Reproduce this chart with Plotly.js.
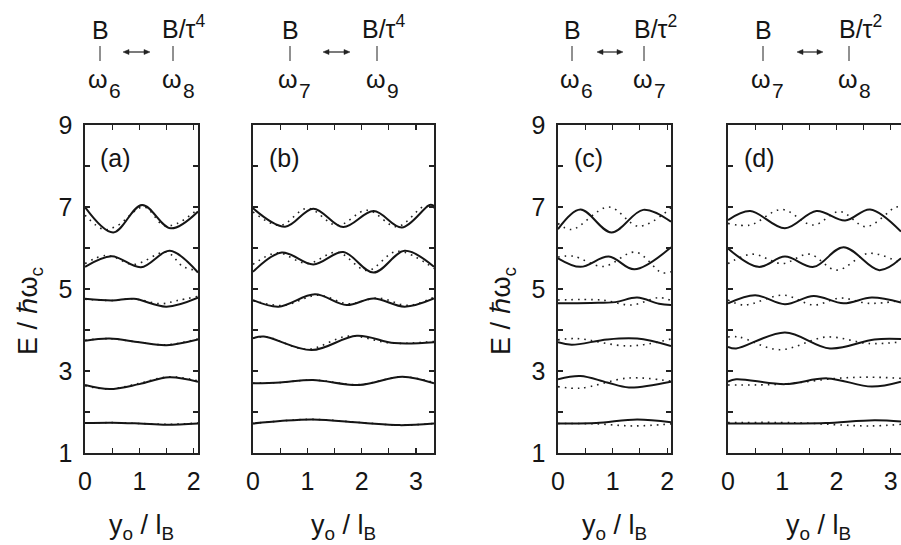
<!DOCTYPE html>
<html>
<head>
<meta charset="utf-8">
<script src="https://cdn.plot.ly/plotly-3.0.1.min.js"></script>
<style>
  html, body { margin: 0; padding: 0; background: #fff; }
  #chart { width: 901px; height: 545px; }
</style>
</head>
<body>
<div id="chart"></div>
<script>
// Energy levels E / ħω_c versus guiding-centre position y_o / l_B
// for four pairs of interfering fields; solid and dotted curves per level.

const panelLetters = ['(a)', '(b)', '(c)', '(d)'];
const leftField = ['B', 'B', 'B', 'B'];
const rightField = ['B/τ<sup>4</sup>', 'B/τ<sup>4</sup>', 'B/τ<sup>2</sup>', 'B/τ<sup>2</sup>'];
const leftFreq = ['6', '7', '6', '7'];
const rightFreq = ['8', '9', '7', '8'];

// panel (a)
const aSolidX = [
  [0, 0.5, 1.0, 1.5, 2.08],
  [0, 0.45, 1.0, 1.55, 2.08],
  [0, 0.45, 1.0, 1.5, 2.08],
  [0, 0.5, 0.9, 1.5, 2.08],
  [0, 0.49, 1.03, 1.56, 2.08],
  [0, 0.52, 1.05, 1.58, 2.08]
];
const aSolidY = [
  [1.73, 1.74, 1.72, 1.69, 1.72],
  [2.66, 2.56, 2.68, 2.85, 2.74],
  [3.74, 3.79, 3.70, 3.63, 3.77],
  [4.76, 4.72, 4.76, 4.57, 4.79],
  [5.54, 5.80, 5.53, 5.93, 5.40],
  [7.00, 6.38, 7.05, 6.48, 6.89]
];
const aDotX = [
  [0, 0.5, 1.0, 1.5, 2.08],
  [0, 0.45, 1.0, 1.55, 2.08],
  [0, 0.45, 1.0, 1.5, 2.08],
  [0, 0.5, 0.9, 1.4, 1.7, 2.08],
  [0, 0.4, 0.9, 1.5, 1.8, 2.08],
  [0, 0.35, 0.6, 1.08, 1.45, 1.7, 2.08]
];
const aDotY = [
  [1.73, 1.74, 1.72, 1.70, 1.73],
  [2.64, 2.56, 2.70, 2.86, 2.76],
  [3.75, 3.79, 3.70, 3.64, 3.78],
  [4.75, 4.72, 4.76, 4.64, 4.72, 4.82],
  [5.62, 5.82, 5.60, 5.90, 5.55, 5.45],
  [6.80, 6.45, 6.55, 7.00, 6.55, 6.60, 6.95]
];

// panel (b)
const bSolidX = [
  [0, 0.5, 1.1, 2.0, 2.7, 3.33],
  [0, 0.5, 1.1, 1.95, 2.75, 3.33],
  [0, 0.2, 1.08, 1.91, 2.6, 3.33],
  [0, 0.47, 1.14, 1.72, 2.22, 2.79, 3.33],
  [0, 0.53, 1.11, 1.66, 2.22, 2.79, 3.33],
  [0, 0.59, 1.11, 1.66, 2.22, 2.74, 3.25, 3.33]
];
const bSolidY = [
  [1.72, 1.78, 1.82, 1.74, 1.68, 1.72],
  [2.70, 2.72, 2.78, 2.66, 2.86, 2.70],
  [3.80, 3.84, 3.51, 3.86, 3.68, 3.70],
  [4.73, 4.57, 4.87, 4.61, 4.77, 4.57, 4.77],
  [5.42, 5.89, 5.60, 5.90, 5.40, 5.93, 5.54],
  [6.97, 6.52, 6.96, 6.51, 6.90, 6.50, 7.05, 7.03]
];
const bDotX = [
  [0, 0.5, 1.1, 2.0, 2.7, 3.33],
  [0, 0.5, 1.1, 1.95, 2.75, 3.33],
  [0, 0.25, 1.0, 1.75, 2.55, 3.33],
  [0, 0.55, 1.2, 1.75, 2.3, 2.85, 3.33],
  [0, 0.45, 1.0, 1.55, 2.1, 2.65, 3.33],
  [0, 0.5, 1.0, 1.55, 2.1, 2.65, 3.15, 3.33]
];
const bDotY = [
  [1.72, 1.78, 1.82, 1.74, 1.68, 1.72],
  [2.70, 2.72, 2.78, 2.67, 2.86, 2.72],
  [3.80, 3.83, 3.53, 3.85, 3.68, 3.72],
  [4.72, 4.60, 4.85, 4.64, 4.78, 4.60, 4.80],
  [5.60, 5.88, 5.62, 5.90, 5.45, 5.92, 5.50],
  [6.88, 6.55, 6.97, 6.55, 6.92, 6.52, 7.02, 6.98]
];

// panel (c)
const cSolidX = [
  [0, 0.7, 1.45, 2.07],
  [0, 0.41, 0.9, 1.3, 2.07],
  [0, 0.25, 0.9, 1.45, 2.07],
  [0, 0.6, 1.05, 1.45, 1.85, 2.07],
  [0, 0.41, 0.93, 1.40, 2.07],
  [0, 0.41, 0.98, 1.56, 2.07]
];
const cSolidY = [
  [1.72, 1.73, 1.82, 1.75],
  [2.80, 2.88, 2.72, 2.60, 2.74],
  [3.70, 3.64, 3.77, 3.79, 3.61],
  [4.65, 4.66, 4.68, 4.79, 4.64, 4.61],
  [5.75, 5.54, 5.79, 5.48, 6.02],
  [6.46, 6.94, 6.38, 6.93, 6.64]
];
const cDotX = [
  [0, 0.7, 1.4, 2.07],
  [0, 0.4, 1.3, 2.07],
  [0, 0.35, 1.3, 2.07],
  [0, 0.8, 1.35, 1.85, 2.07],
  [0, 0.28, 0.83, 1.42, 1.9, 2.07],
  [0, 0.25, 0.93, 1.48, 2.07]
];
const cDotY = [
  [1.72, 1.71, 1.66, 1.71],
  [2.62, 2.58, 2.83, 2.75],
  [3.76, 3.79, 3.61, 3.78],
  [4.73, 4.73, 4.61, 4.79, 4.72],
  [5.78, 5.80, 5.55, 5.90, 5.40, 5.42],
  [6.60, 6.45, 7.00, 6.53, 6.98]
];

// panel (d)
const dSolidX = [
  [0, 1.2, 1.8, 2.7, 3.19],
  [0, 0.15, 1.05, 1.83, 2.65, 3.19],
  [0, 0.15, 1.05, 1.88, 2.7, 3.19],
  [0, 0.5, 1.05, 1.58, 2.13, 2.65, 3.19],
  [0, 0.56, 1.05, 1.58, 2.13, 2.79, 3.19],
  [0, 0.41, 1.05, 1.63, 2.16, 2.62, 3.19]
];
const dSolidY = [
  [1.72, 1.72, 1.73, 1.80, 1.77],
  [2.74, 2.80, 2.68, 2.82, 2.62, 2.74],
  [3.59, 3.55, 3.94, 3.55, 3.77, 3.78],
  [4.65, 4.85, 4.63, 4.83, 4.65, 4.79, 4.67],
  [5.99, 5.54, 5.79, 5.54, 6.02, 5.46, 5.75],
  [6.68, 6.90, 6.48, 6.90, 6.67, 6.94, 6.40]
];
const dDotX = [
  [0, 1.2, 2.6, 3.19],
  [0, 1.0, 2.0, 2.6, 3.19],
  [0, 0.2, 0.95, 1.82, 2.6, 3.19],
  [0, 0.3, 1.02, 1.58, 2.07, 2.6, 3.19],
  [0, 0.45, 1.0, 1.5, 2.0, 2.6, 3.19],
  [0, 0.41, 0.99, 1.57, 2.06, 2.55, 3.1, 3.19]
];
const dDotY = [
  [1.74, 1.74, 1.66, 1.70],
  [2.66, 2.68, 2.82, 2.85, 2.82],
  [3.83, 3.83, 3.52, 3.83, 3.67, 3.71],
  [4.73, 4.61, 4.85, 4.61, 4.78, 4.65, 4.72],
  [5.62, 5.85, 5.62, 5.85, 5.46, 5.87, 5.62],
  [6.60, 6.56, 6.94, 6.56, 6.89, 6.52, 7.00, 6.98]
];

const W = 901, H = 545;
const fx = p => p / W;
const fy = p => 1 - p / H;
const FONT = 'Liberation Sans, Arial, Helvetica, sans-serif';
const INK = '#151515';

// plot-area geometry in pixels: [left, right]; shared top/bottom
const panelDom = [[85, 198], [253, 434], [558, 671], [728, 901]];
const plotTop = 125, plotBottom = 453;
const xRanges = [[0, 2.08], [0, 3.33], [0, 2.07], [0, 3.19]];
const sets = [
  [aSolidX, aSolidY, aDotX, aDotY],
  [bSolidX, bSolidY, bDotX, bDotY],
  [cSolidX, cSolidY, cDotX, cDotY],
  [dSolidX, dSolidY, dDotX, dDotY]
];

const traces = [];
sets.forEach((s, i) => {
  const xa = 'x' + (i ? i + 1 : '');
  const ya = 'y' + (i ? i + 1 : '');
  for (let k = 0; k < s[0].length; k++) {
    traces.push({
      x: s[2][k], y: s[3][k], xaxis: xa, yaxis: ya, mode: 'lines',
      line: { color: '#222', width: 1.6, dash: '1.6px,5px', shape: 'spline', smoothing: 1 },
      hoverinfo: 'skip', showlegend: false
    });
    traces.push({
      x: s[0][k], y: s[1][k], xaxis: xa, yaxis: ya, mode: 'lines',
      line: { color: INK, width: 2, shape: 'spline', smoothing: 1 },
      hoverinfo: 'skip', showlegend: false
    });
  }
});

const layout = {
  width: W, height: H,
  margin: { l: 0, r: 0, t: 0, b: 0 },
  paper_bgcolor: '#fff', plot_bgcolor: '#fff',
  showlegend: false,
  font: { family: FONT, color: INK, size: 25 },
  annotations: [], shapes: []
};

const tickFont = { family: FONT, size: 25, color: INK };
const titleFont = { family: FONT, size: 27, color: INK };

panelDom.forEach((d, i) => {
  const n = i ? i + 1 : '';
  layout['xaxis' + n] = {
    domain: [fx(d[0]), fx(d[1])], range: xRanges[i], anchor: 'y' + n,
    showgrid: false, zeroline: false, showline: true, linecolor: '#222', linewidth: 1.6,
    mirror: 'ticks', ticks: 'inside', ticklen: 5, tickwidth: 1.2, tickcolor: '#222',
    tickmode: 'linear', tick0: 0, dtick: 1,
    minor: { ticks: 'inside', ticklen: 5, tickwidth: 1.2, tickcolor: '#222', dtick: 0.5, tick0: 0, showgrid: false },
    tickfont: tickFont, ticklabelstandoff: 5, fixedrange: true
  };
  layout['yaxis' + n] = {
    domain: [fy(plotBottom), fy(plotTop)], range: [1, 9], anchor: 'x' + n,
    showgrid: false, zeroline: false, showline: true, linecolor: '#222', linewidth: 1.6,
    mirror: i === 3 ? false : 'ticks', ticks: 'inside', ticklen: 5, tickwidth: 1.2, tickcolor: '#222',
    tickmode: 'linear', tick0: 1, dtick: 2,
    minor: { ticks: 'inside', ticklen: 5, tickwidth: 1.2, tickcolor: '#222', dtick: 1, tick0: 1, showgrid: false },
    showticklabels: (i === 0 || i === 2),
    tickfont: tickFont, ticklabelstandoff: 6, fixedrange: true
  };

  // panel letter
  const letterX = [116, 284, 588, 759][i];
  layout.annotations.push({
    xref: 'paper', yref: 'paper', x: fx(letterX), y: fy(158), xanchor: 'center', yanchor: 'middle',
    text: panelLetters[i], showarrow: false, font: { family: FONT, size: 25, color: INK }
  });

  // x-axis title
  layout.annotations.push({
    xref: 'paper', yref: 'paper', x: fx((d[0] + (i === 3 ? 909 : d[1])) / 2), y: fy(527),
    xanchor: 'center', yanchor: 'middle',
    text: 'y<sub>o</sub> / l<sub>B</sub>', showarrow: false, font: titleFont
  });
});

// y-axis titles on panels (a) and (c)
[30, 503].forEach(x => {
  layout.annotations.push({
    xref: 'paper', yref: 'paper', x: fx(x), y: fy(311), xanchor: 'center', yanchor: 'middle',
    textangle: -90, text: 'E / ℏω<sub>c</sub>', showarrow: false, font: titleFont
  });
});

// field headers above each panel: B  <->  B/τ^n  with frequency labels underneath
const headerLeftX = [100, 290, 572, 763];
const headerRightX = [163, 363, 635, 840];
const headerBarRight = [173, 377, 644, 849];
const arrowSpan = [[123, 150], [323, 350], [597, 623], [797, 823]];
const hdrFont = { family: FONT, size: 25, color: INK };
const subFont = { family: FONT, size: 21, color: INK };

for (let i = 0; i < 4; i++) {
  layout.annotations.push({
    xref: 'paper', yref: 'paper', x: fx(headerLeftX[i]), y: fy(29.5), xanchor: 'center', yanchor: 'middle',
    text: leftField[i], showarrow: false, font: hdrFont
  });
  layout.annotations.push({
    xref: 'paper', yref: 'paper', x: fx(headerRightX[i] - 3), y: fy(27), xanchor: 'left', yanchor: 'middle',
    text: rightField[i], showarrow: false, font: hdrFont
  });
  // ω with subscript index, left and right
  [[headerLeftX[i] - 2.5, leftFreq[i]], [headerBarRight[i] - 1.5, rightFreq[i]]].forEach(([cx, idx]) => {
    layout.annotations.push({
      xref: 'paper', yref: 'paper', x: fx(cx), y: fy(79), xanchor: 'center', yanchor: 'middle',
      text: 'ω', showarrow: false, font: hdrFont
    });
    layout.annotations.push({
      xref: 'paper', yref: 'paper', x: fx(cx + 17), y: fy(90.5), xanchor: 'center', yanchor: 'middle',
      text: idx, showarrow: false, font: subFont
    });
  });
  // connector ticks
  [headerLeftX[i], headerBarRight[i]].forEach(bx => {
    layout.shapes.push({
      type: 'line', xref: 'paper', yref: 'paper',
      x0: fx(bx), x1: fx(bx), y0: fy(46), y1: fy(61), line: { color: '#222', width: 1 }
    });
  });
  // small double-headed arrow
  const [a0, a1] = arrowSpan[i];
  layout.shapes.push({
    type: 'line', xref: 'paper', yref: 'paper',
    x0: fx(a0 + 3), x1: fx(a1 - 3), y0: fy(52), y1: fy(52), line: { color: '#222', width: 1.2 }
  });
  layout.shapes.push({
    type: 'path', xref: 'paper', yref: 'paper', fillcolor: '#222', line: { color: '#222', width: 0.5 },
    path: `M${fx(a0)},${fy(52)} L${fx(a0 + 6)},${fy(49.5)} L${fx(a0 + 6)},${fy(54.5)} Z`
  });
  layout.shapes.push({
    type: 'path', xref: 'paper', yref: 'paper', fillcolor: '#222', line: { color: '#222', width: 0.5 },
    path: `M${fx(a1)},${fy(52)} L${fx(a1 - 6)},${fy(49.5)} L${fx(a1 - 6)},${fy(54.5)} Z`
  });
}

Plotly.newPlot('chart', traces, layout, { displayModeBar: false, staticPlot: true });
</script>
</body>
</html>
